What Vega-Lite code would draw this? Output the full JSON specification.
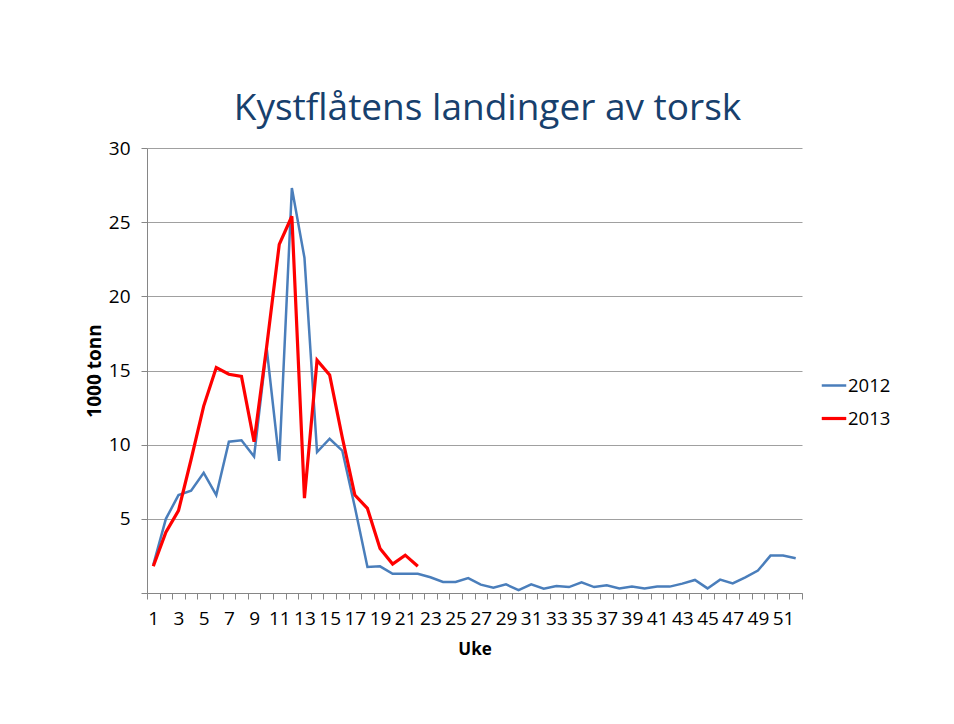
{
  "$schema": "https://vega.github.io/schema/vega-lite/v6.json",
  "autosize": {"type": "none"},
  "width": 655,
  "height": 445,
  "padding": {"left": 147, "top": 148, "right": 152, "bottom": 131},
  "background": "white",
  "config": {
    "font": "Open Sans",
    "view": {"stroke": null}
  },
  "title": {
    "text": "Kystflåtens landinger av torsk",
    "font": "Open Sans",
    "fontSize": 37,
    "fontWeight": "normal",
    "color": "#17406d",
    "anchor": "middle",
    "baseline": "alphabetic",
    "dx": 13,
    "dy": 36,
    "offset": 18
  },
  "data": {
    "values": [
      {"week": 1, "year": "2012", "value": 1.9},
      {"week": 2, "year": "2012", "value": 5.0},
      {"week": 3, "year": "2012", "value": 6.6},
      {"week": 4, "year": "2012", "value": 6.9},
      {"week": 5, "year": "2012", "value": 8.1},
      {"week": 6, "year": "2012", "value": 6.6},
      {"week": 7, "year": "2012", "value": 10.2},
      {"week": 8, "year": "2012", "value": 10.3},
      {"week": 9, "year": "2012", "value": 9.2},
      {"week": 10, "year": "2012", "value": 16.5},
      {"week": 11, "year": "2012", "value": 8.9},
      {"week": 12, "year": "2012", "value": 27.3},
      {"week": 13, "year": "2012", "value": 22.6},
      {"week": 14, "year": "2012", "value": 9.5},
      {"week": 15, "year": "2012", "value": 10.4},
      {"week": 16, "year": "2012", "value": 9.6},
      {"week": 17, "year": "2012", "value": 5.8},
      {"week": 18, "year": "2012", "value": 1.75},
      {"week": 19, "year": "2012", "value": 1.8},
      {"week": 20, "year": "2012", "value": 1.3},
      {"week": 21, "year": "2012", "value": 1.3},
      {"week": 22, "year": "2012", "value": 1.3},
      {"week": 23, "year": "2012", "value": 1.06},
      {"week": 24, "year": "2012", "value": 0.74},
      {"week": 25, "year": "2012", "value": 0.74},
      {"week": 26, "year": "2012", "value": 1.0},
      {"week": 27, "year": "2012", "value": 0.56},
      {"week": 28, "year": "2012", "value": 0.36},
      {"week": 29, "year": "2012", "value": 0.58},
      {"week": 30, "year": "2012", "value": 0.2},
      {"week": 31, "year": "2012", "value": 0.58},
      {"week": 32, "year": "2012", "value": 0.29},
      {"week": 33, "year": "2012", "value": 0.47},
      {"week": 34, "year": "2012", "value": 0.4},
      {"week": 35, "year": "2012", "value": 0.72},
      {"week": 36, "year": "2012", "value": 0.4},
      {"week": 37, "year": "2012", "value": 0.52},
      {"week": 38, "year": "2012", "value": 0.31},
      {"week": 39, "year": "2012", "value": 0.43},
      {"week": 40, "year": "2012", "value": 0.31},
      {"week": 41, "year": "2012", "value": 0.43},
      {"week": 42, "year": "2012", "value": 0.43},
      {"week": 43, "year": "2012", "value": 0.63},
      {"week": 44, "year": "2012", "value": 0.88},
      {"week": 45, "year": "2012", "value": 0.31},
      {"week": 46, "year": "2012", "value": 0.9},
      {"week": 47, "year": "2012", "value": 0.65},
      {"week": 48, "year": "2012", "value": 1.06},
      {"week": 49, "year": "2012", "value": 1.51},
      {"week": 50, "year": "2012", "value": 2.52},
      {"week": 51, "year": "2012", "value": 2.52},
      {"week": 52, "year": "2012", "value": 2.34},
      {"week": 1, "year": "2013", "value": 1.8},
      {"week": 2, "year": "2013", "value": 4.1},
      {"week": 3, "year": "2013", "value": 5.55},
      {"week": 4, "year": "2013", "value": 9.0},
      {"week": 5, "year": "2013", "value": 12.6},
      {"week": 6, "year": "2013", "value": 15.2},
      {"week": 7, "year": "2013", "value": 14.75},
      {"week": 8, "year": "2013", "value": 14.6},
      {"week": 9, "year": "2013", "value": 10.2},
      {"week": 10, "year": "2013", "value": 16.6},
      {"week": 11, "year": "2013", "value": 23.5},
      {"week": 12, "year": "2013", "value": 25.4},
      {"week": 13, "year": "2013", "value": 6.4},
      {"week": 14, "year": "2013", "value": 15.7},
      {"week": 15, "year": "2013", "value": 14.7},
      {"week": 16, "year": "2013", "value": 10.5},
      {"week": 17, "year": "2013", "value": 6.6},
      {"week": 18, "year": "2013", "value": 5.7},
      {"week": 19, "year": "2013", "value": 3.0},
      {"week": 20, "year": "2013", "value": 1.95},
      {"week": 21, "year": "2013", "value": 2.55},
      {"week": 22, "year": "2013", "value": 1.8}
    ]
  },
  "mark": {"type": "line", "strokeJoin": "miter"},
  "encoding": {
    "x": {
      "field": "week",
      "type": "ordinal",
      "scale": {"type": "band", "paddingInner": 0, "paddingOuter": 0},
      "sort": "ascending",
      "axis": {
        "title": "Uke",
        "titleFont": "Open Sans",
        "titleFontSize": 17,
        "titleFontWeight": "bold",
        "titleColor": "black",
        "titlePadding": 13,
        "labelAngle": 0,
        "labelFont": "Open Sans",
        "labelFontSize": 19,
        "labelColor": "black",
        "labelPadding": 10,
        "labelOverlap": false,
        "labelExpr": "datum.value % 2 == 1 ? datum.label : ''",
        "tickBand": "extent",
        "tickSize": 6,
        "tickColor": "#868686",
        "domainColor": "#868686",
        "grid": false
      }
    },
    "y": {
      "field": "value",
      "type": "quantitative",
      "scale": {"domain": [0, 30], "nice": false},
      "axis": {
        "title": "1000 tonn",
        "titleFont": "Open Sans",
        "titleFontSize": 19,
        "titleFontWeight": "bold",
        "titleColor": "black",
        "titlePadding": 4,
        "values": [0, 5, 10, 15, 20, 25, 30],
        "labelExpr": "datum.value == 0 ? '' : datum.label",
        "labelFont": "Open Sans",
        "labelFontSize": 19,
        "labelColor": "black",
        "labelPadding": 11,
        "tickSize": 6,
        "tickColor": "#868686",
        "domainColor": "#868686",
        "grid": true,
        "gridColor": "#a0a0a0",
        "gridWidth": 1
      }
    },
    "color": {
      "field": "year",
      "type": "nominal",
      "scale": {"domain": ["2012", "2013"], "range": ["#4a7ebb", "#ff0000"]},
      "legend": {
        "title": null,
        "orient": "none",
        "legendX": 673,
        "legendY": 224,
        "symbolType": "stroke",
        "symbolSize": 600,
        "symbolStrokeWidth": 2.5,
        "labelFont": "Open Sans",
        "labelFontSize": 18.5,
        "labelColor": "black",
        "rowPadding": 9.5,
        "labelOffset": 0
      }
    },
    "strokeWidth": {
      "field": "year",
      "type": "nominal",
      "scale": {"domain": ["2012", "2013"], "range": [2.5, 3.2]},
      "legend": null
    }
  }
}
